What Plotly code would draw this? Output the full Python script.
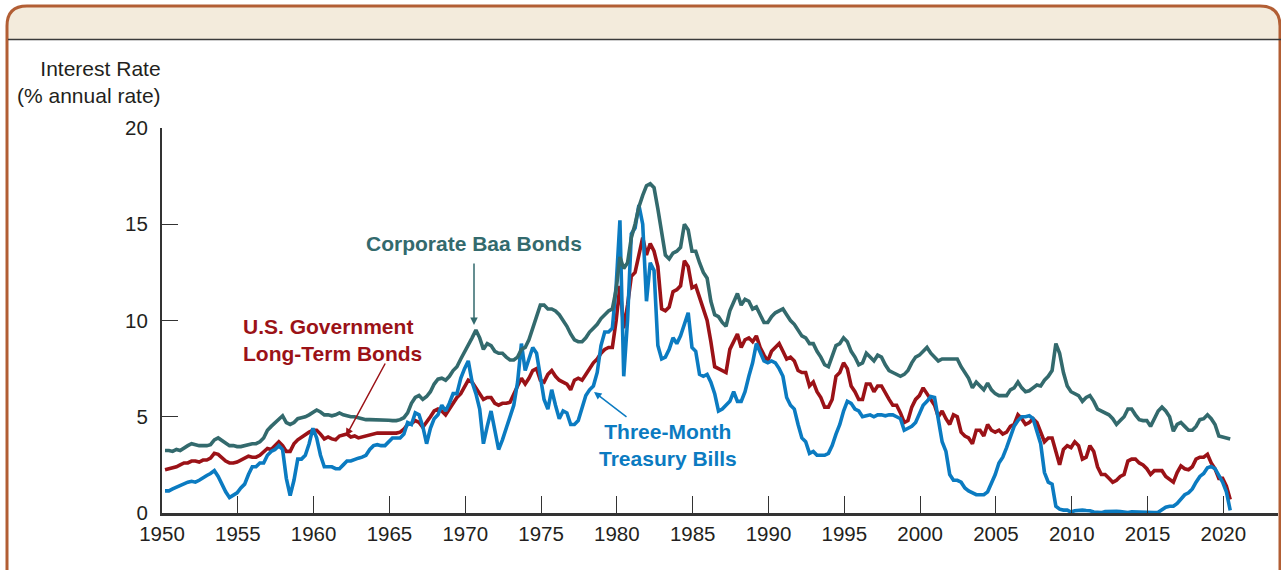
import pandas as pd
import plotly.graph_objects as go

# Quarterly values (Q1..Q4), 1950 through mid-2020, % annual rate
baa_corporate = [
    3.25, 3.25, 3.2, 3.3,    # 1950
    3.25, 3.4, 3.5, 3.6,     # 1951
    3.55, 3.5, 3.5, 3.5,     # 1952
    3.55, 3.8, 3.9, 3.75,    # 1953
    3.6, 3.5, 3.5, 3.45,     # 1954
    3.45, 3.5, 3.55, 3.6,    # 1955
    3.6, 3.7, 3.9, 4.3,      # 1956
    4.5, 4.7, 4.9, 5.05,     # 1957
    4.7, 4.6, 4.7, 4.9,      # 1958
    4.95, 5.0, 5.1, 5.25,    # 1959
    5.35, 5.25, 5.1, 5.1,    # 1960
    5.05, 5.1, 5.2, 5.1,     # 1961
    5.05, 5.0, 5.0, 4.95,    # 1962
    4.9, 4.85, 4.85, 4.85,   # 1963
    4.85, 4.85, 4.82, 4.82,  # 1964
    4.8, 4.8, 4.85, 4.95,    # 1965
    5.2, 5.7, 6.0, 6.1,      # 1966
    5.9, 6.05, 6.3, 6.7,     # 1967
    6.95, 7.0, 6.9, 7.1,     # 1968
    7.4, 7.6, 8.0, 8.4,      # 1969
    8.8, 9.1, 9.5, 9.1,      # 1970
    8.5, 8.8, 8.7, 8.4,      # 1971
    8.3, 8.3, 8.1, 7.95,     # 1972
    7.95, 8.1, 8.5, 8.6,     # 1973
    9.0, 9.6, 10.3, 10.8,    # 1974
    10.8, 10.6, 10.6, 10.5,  # 1975
    10.3, 10.0, 9.7, 9.3,    # 1976
    9.0, 8.9, 8.9, 9.1,      # 1977
    9.4, 9.6, 9.8, 10.1,     # 1978
    10.3, 10.5, 10.6, 11.6,  # 1979
    13.3, 12.7, 13.0, 14.3,  # 1980
    15.0, 15.9, 16.5, 17.0,  # 1981
    17.1, 16.9, 15.8, 14.5,  # 1982
    13.4, 13.2, 13.5, 13.6,  # 1983
    13.8, 15.0, 14.7, 13.6,  # 1984
    13.6, 13.0, 12.5, 12.2,  # 1985
    11.0, 10.3, 10.2, 9.9,   # 1986
    9.7, 10.5, 11.0, 11.4,   # 1987
    10.8, 11.1, 11.0, 10.6,  # 1988
    10.7, 10.3, 9.9, 9.9,    # 1989
    10.2, 10.4, 10.5, 10.6,  # 1990
    10.3, 10.0, 9.8, 9.5,    # 1991
    9.2, 9.1, 8.8, 8.8,      # 1992
    8.4, 8.1, 7.7, 7.6,      # 1993
    8.1, 8.7, 8.8, 9.1,      # 1994
    8.9, 8.4, 8.1, 7.7,      # 1995
    7.8, 8.3, 8.1, 7.9,      # 1996
    8.2, 8.1, 7.7, 7.4,      # 1997
    7.3, 7.2, 7.1, 7.2,      # 1998
    7.4, 7.8, 8.1, 8.2,      # 1999
    8.4, 8.6, 8.3, 8.1,      # 2000
    7.9, 8.0, 8.0, 8.0,      # 2001
    8.0, 8.0, 7.6, 7.3,      # 2002
    7.0, 6.5, 6.8, 6.6,      # 2003
    6.4, 6.75, 6.4, 6.2,     # 2004
    6.1, 6.1, 6.1, 6.4,      # 2005
    6.5, 6.8, 6.5, 6.3,      # 2006
    6.35, 6.5, 6.65, 6.6,    # 2007
    6.9, 7.1, 7.4, 8.8,      # 2008
    8.3, 7.3, 6.6, 6.3,      # 2009
    6.2, 6.1, 5.8, 6.0,      # 2010
    6.1, 5.8, 5.4, 5.3,      # 2011
    5.2, 5.1, 4.9, 4.6,      # 2012
    4.8, 5.0, 5.4, 5.4,      # 2013
    5.1, 4.85, 4.8, 4.8,     # 2014
    4.5, 4.9, 5.3, 5.5,      # 2015
    5.3, 5.0, 4.25, 4.6,     # 2016
    4.7, 4.5, 4.3, 4.3,      # 2017
    4.5, 4.85, 4.9, 5.1,     # 2018
    4.9, 4.6, 4.0, 3.95,     # 2019
    3.9, 3.85,               # 2020
]

us_gov_long_term = [
    2.25, 2.3, 2.35, 2.4,    # 1950
    2.5, 2.6, 2.6, 2.7,      # 1951
    2.7, 2.65, 2.75, 2.75,   # 1952
    2.85, 3.1, 3.05, 2.85,   # 1953
    2.7, 2.6, 2.6, 2.65,     # 1954
    2.75, 2.85, 2.95, 2.9,   # 1955
    2.9, 3.0, 3.2, 3.35,     # 1956
    3.3, 3.5, 3.7, 3.5,      # 1957
    3.2, 3.2, 3.6, 3.8,      # 1958
    3.95, 4.1, 4.2, 4.3,     # 1959
    4.3, 4.1, 3.85, 3.95,    # 1960
    3.85, 3.8, 4.0, 4.05,    # 1961
    4.1, 3.95, 4.0, 3.9,     # 1962
    3.95, 4.0, 4.05, 4.1,    # 1963
    4.15, 4.15, 4.15, 4.15,  # 1964
    4.15, 4.15, 4.2, 4.35,   # 1965
    4.6, 4.65, 4.8, 4.7,     # 1966
    4.45, 4.7, 5.0, 5.3,     # 1967
    5.4, 5.3, 5.1, 5.4,      # 1968
    5.7, 6.0, 6.2, 6.6,      # 1969
    6.9, 6.8, 6.5, 6.2,      # 1970
    5.9, 6.0, 6.0, 5.7,      # 1971
    5.6, 5.7, 5.7, 5.75,     # 1972
    6.2, 6.6, 7.0, 6.7,      # 1973
    7.0, 7.4, 7.5, 6.9,      # 1974
    6.8, 7.2, 7.4, 7.1,      # 1975
    6.9, 6.8, 6.7, 6.4,      # 1976
    6.9, 7.0, 6.9, 7.2,      # 1977
    7.5, 7.8, 8.0, 8.3,      # 1978
    8.5, 8.6, 8.6, 10.0,     # 1979
    11.8, 9.6, 10.8, 12.3,   # 1980
    12.5, 13.5, 14.3, 13.4,  # 1981
    14.0, 13.6, 12.8, 10.6,  # 1982
    10.5, 10.7, 11.5, 11.6,  # 1983
    11.8, 13.1, 12.8, 11.7,  # 1984
    11.8, 11.2, 10.6, 10.0,  # 1985
    8.9, 7.6, 7.5, 7.4,      # 1986
    7.3, 8.5, 8.9, 9.3,      # 1987
    8.6, 9.0, 9.1, 8.9,      # 1988
    9.2, 8.6, 8.2, 7.9,      # 1989
    8.4, 8.6, 8.8, 8.4,      # 1990
    8.0, 8.1, 7.9, 7.4,      # 1991
    7.3, 7.3, 6.6, 6.8,      # 1992
    6.3, 6.0, 5.5, 5.5,      # 1993
    5.9, 7.1, 7.3, 7.8,      # 1994
    7.5, 6.6, 6.3, 5.9,      # 1995
    5.9, 6.7, 6.7, 6.3,      # 1996
    6.6, 6.6, 6.2, 5.9,      # 1997
    5.6, 5.6, 5.2, 4.7,      # 1998
    4.8, 5.5, 5.9, 6.1,      # 1999
    6.5, 6.2, 5.9, 5.6,      # 2000
    5.0, 5.3, 4.9, 4.6,      # 2001
    5.1, 5.0, 4.2, 4.0,      # 2002
    3.9, 3.6, 4.3, 4.3,      # 2003
    4.0, 4.6, 4.3, 4.2,      # 2004
    4.3, 4.1, 4.2, 4.5,      # 2005
    4.6, 5.1, 4.9, 4.6,      # 2006
    4.7, 4.9, 4.7, 4.2,      # 2007
    3.7, 3.9, 3.9, 3.2,      # 2008
    2.5, 3.3, 3.5, 3.4,      # 2009
    3.7, 3.5, 2.8, 2.9,      # 2010
    3.5, 3.2, 2.4, 2.0,      # 2011
    2.0, 1.8, 1.6, 1.7,      # 2012
    1.9, 2.0, 2.7, 2.8,      # 2013
    2.8, 2.6, 2.5, 2.3,      # 2014
    2.0, 2.2, 2.2, 2.2,      # 2015
    1.9, 1.75, 1.6, 2.1,     # 2016
    2.45, 2.3, 2.25, 2.4,    # 2017
    2.8, 2.9, 2.9, 3.05,     # 2018
    2.6, 2.3, 1.8, 1.8,      # 2019
    1.4, 0.7,                # 2020
]

treasury_3m = [
    1.15, 1.15, 1.25, 1.35,  # 1950
    1.4, 1.5, 1.6, 1.65,     # 1951
    1.6, 1.7, 1.8, 1.95,     # 1952
    2.05, 2.2, 1.9, 1.45,    # 1953
    1.1, 0.8, 0.95, 1.05,    # 1954
    1.3, 1.5, 2.0, 2.4,      # 1955
    2.4, 2.6, 2.6, 3.0,      # 1956
    3.2, 3.3, 3.5, 3.3,      # 1957
    1.8, 0.9, 1.7, 2.8,      # 1958
    2.8, 3.0, 3.6, 4.4,      # 1959
    3.9, 3.0, 2.4, 2.4,      # 1960
    2.4, 2.3, 2.3, 2.5,      # 1961
    2.7, 2.7, 2.8, 2.85,     # 1962
    2.9, 3.0, 3.3, 3.5,      # 1963
    3.55, 3.5, 3.5, 3.7,     # 1964
    3.9, 3.9, 3.9, 4.1,      # 1965
    4.7, 4.6, 5.2, 5.1,      # 1966
    4.5, 3.6, 4.4, 4.9,      # 1967
    5.1, 5.6, 5.3, 5.7,      # 1968
    6.2, 6.2, 7.0, 7.5,      # 1969
    7.9, 6.8, 6.2, 5.4,      # 1970
    3.6, 4.5, 5.3, 4.3,      # 1971
    3.3, 3.8, 4.4, 5.0,      # 1972
    5.6, 6.8, 8.8, 7.4,      # 1973
    8.0, 8.6, 8.3, 7.2,      # 1974
    5.9, 5.4, 6.4, 5.6,      # 1975
    4.9, 5.3, 5.2, 4.6,      # 1976
    4.6, 4.8, 5.5, 6.1,      # 1977
    6.4, 6.6, 7.3, 8.7,      # 1978
    9.4, 9.4, 9.6, 11.8,     # 1979
    15.2, 7.1, 10.0, 14.5,   # 1980
    14.8, 16.0, 15.0, 11.0,  # 1981
    13.0, 12.6, 8.7, 8.0,    # 1982
    8.1, 8.5, 9.1, 8.8,      # 1983
    9.2, 9.8, 10.4, 8.6,     # 1984
    8.4, 7.2, 7.1, 7.2,      # 1985
    6.8, 6.2, 5.3, 5.4,      # 1986
    5.6, 5.8, 6.3, 5.8,      # 1987
    5.8, 6.3, 7.1, 7.8,      # 1988
    8.8, 8.3, 7.9, 7.8,      # 1989
    7.9, 7.8, 7.5, 7.1,      # 1990
    6.0, 5.6, 5.4, 4.6,      # 1991
    3.9, 3.7, 3.1, 3.2,      # 1992
    3.0, 3.0, 3.0, 3.1,      # 1993
    3.5, 4.1, 4.6, 5.3,      # 1994
    5.8, 5.7, 5.4, 5.3,      # 1995
    5.0, 5.05, 5.1, 5.0,     # 1996
    5.1, 5.1, 5.05, 5.1,     # 1997
    5.1, 5.0, 4.9, 4.3,      # 1998
    4.4, 4.5, 4.7, 5.1,      # 1999
    5.6, 5.8, 6.05, 6.0,     # 2000
    4.8, 3.7, 3.2, 2.0,      # 2001
    1.7, 1.7, 1.6, 1.3,      # 2002
    1.15, 1.05, 0.95, 0.95,  # 2003
    0.95, 1.1, 1.5, 2.0,     # 2004
    2.6, 2.9, 3.4, 3.9,      # 2005
    4.5, 4.8, 5.0, 5.0,      # 2006
    5.05, 4.9, 4.2, 3.6,     # 2007
    2.1, 1.6, 1.5, 0.35,     # 2008
    0.2, 0.15, 0.15, 0.05,   # 2009
    0.12, 0.15, 0.15, 0.13,  # 2010
    0.12, 0.05, 0.02, 0.02,  # 2011
    0.07, 0.09, 0.1, 0.09,   # 2012
    0.08, 0.05, 0.03, 0.06,  # 2013
    0.05, 0.03, 0.03, 0.02,  # 2014
    0.03, 0.02, 0.04, 0.15,  # 2015
    0.3, 0.35, 0.35, 0.5,    # 2016
    0.7, 0.95, 1.05, 1.25,   # 2017
    1.6, 1.9, 2.05, 2.35,    # 2018
    2.42, 2.3, 1.95, 1.6,    # 2019
    1.1, 0.14,               # 2020
]

x_tick_years = list(range(1950, 2021, 5))
y_tick_values = [0, 5, 10, 15, 20]

COL_BAA = "#336a6d"
COL_GOV = "#9b1217"
COL_TB = "#0b7bc1"
TXT = "#231f20"
FONT = "Liberation Sans, Arial, Helvetica, sans-serif"

def quarter_dates(n):
    return pd.date_range("1950-02-15", periods=n, freq="3MS") + pd.Timedelta(days=14)

W, H = 1281, 570
ML, MR, MT, MB = 162, 3, 128, 57
PW, PH = W - ML - MR, H - MT - MB

def px(x):
    return (x - ML) / PW

def py(y):
    return (H - MB - y) / PH

fig = go.Figure()
for vals, col in [(us_gov_long_term, COL_GOV), (treasury_3m, COL_TB), (baa_corporate, COL_BAA)]:
    fig.add_trace(go.Scatter(x=quarter_dates(len(vals)), y=vals, mode="lines",
                             line=dict(color=col, width=3.6), hoverinfo="skip",
                             showlegend=False))

shapes = [
    # header band
    dict(type="path", xref="paper", yref="paper", layer="below",
         path=f"M {px(7)},{py(39)} L {px(7)},{py(26)} Q {px(7)},{py(6)} {px(27)},{py(6)} "
              f"L {px(1261)},{py(6)} Q {px(1281)},{py(6)} {px(1281)},{py(26)} L {px(1281)},{py(39)} Z",
         fillcolor="#f3ebdc", line=dict(width=0)),
    # border
    dict(type="path", xref="paper", yref="paper", layer="below",
         path=f"M {px(7)},{py(580)} L {px(7)},{py(26)} Q {px(7)},{py(6)} {px(27)},{py(6)} "
              f"L {px(1260)},{py(6)} Q {px(1280)},{py(6)} {px(1280)},{py(26)} L {px(1280)},{py(580)}",
         line=dict(color="#b25e34", width=3)),
    # separator line
    dict(type="line", xref="paper", yref="paper", layer="below",
         x0=px(8), x1=px(1282), y0=py(39.5), y1=py(39.5),
         line=dict(color="#3a3a3a", width=1.5)),
]

bold = dict(family=FONT, size=21)
annotations = [
    dict(xref="paper", yref="paper", x=px(163), y=py(82), xanchor="right", yanchor="middle",
         align="right", showarrow=False, text="Interest Rate<br>(% annual rate)",
         font=dict(family=FONT, size=21, color=TXT)),
    dict(xref="paper", yref="paper", x=px(474), y=py(243), xanchor="center", yanchor="middle",
         showarrow=False, text="<b>Corporate Baa Bonds</b>", font=dict(bold, color=COL_BAA)),
    dict(xref="paper", yref="paper", x=px(241), y=py(340), xanchor="left", yanchor="middle",
         align="left", showarrow=False, text="<b>U.S. Government<br>Long-Term Bonds</b>",
         font=dict(bold, color=COL_GOV)),
    dict(xref="paper", yref="paper", x=px(668), y=py(445), xanchor="center", yanchor="middle",
         align="center", showarrow=False, text="<b>Three-Month<br>Treasury Bills</b>",
         font=dict(bold, color=COL_TB)),
    # arrows
    dict(xref="paper", yref="paper", x=px(474), y=py(325), ax=0, ay=-63, text="",
         showarrow=True, arrowhead=2, arrowsize=1, arrowwidth=1.5, arrowcolor=COL_BAA),
    dict(xref="paper", yref="paper", x=px(346), y=py(436), ax=40, ay=-74, text="",
         showarrow=True, arrowhead=2, arrowsize=1, arrowwidth=1.5, arrowcolor=COL_GOV),
    dict(xref="paper", yref="paper", x=px(594), y=py(392), ax=34, ay=26, text="",
         showarrow=True, arrowhead=2, arrowsize=1, arrowwidth=1.5, arrowcolor=COL_TB),
]

fig.update_layout(
    width=W, height=H, margin=dict(l=ML, r=MR, t=MT, b=MB),
    paper_bgcolor="white", plot_bgcolor="white",
    shapes=shapes, annotations=annotations,
    xaxis=dict(type="date", range=["1950-01-01", "2023-08-10"],
               tickvals=[f"{y}-01-01" for y in x_tick_years],
               ticktext=[str(y) for y in x_tick_years],
               showgrid=False, zeroline=False, showline=True, linecolor="#333333", linewidth=3,
               ticks="inside", ticklen=17, tickwidth=1.3, tickcolor="#333333",
               tickfont=dict(family=FONT, size=20.5, color=TXT)),
    yaxis=dict(range=[0, 20], tickvals=y_tick_values, ticktext=[str(v) for v in y_tick_values],
               showgrid=False, zeroline=False, showline=True, linecolor="#333333", linewidth=2.2,
               ticks="inside", ticklen=16, tickwidth=1.3, tickcolor="#333333",
               ticklabelstandoff=8,
               tickfont=dict(family=FONT, size=20.5, color=TXT)),
)

fig.write_html("out.html", config={"displayModeBar": False},
               post_script="document.body.style.margin='0';")
